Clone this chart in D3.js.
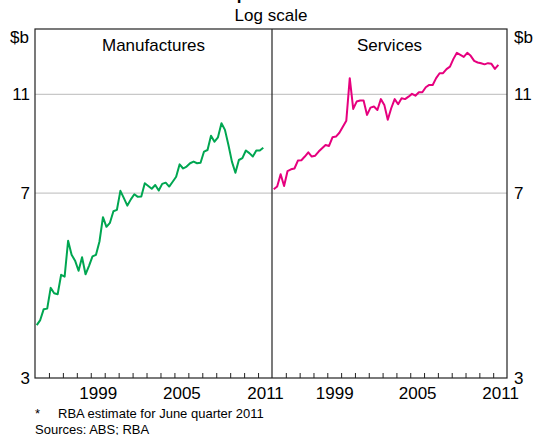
<!DOCTYPE html>
<html>
<head>
<meta charset="utf-8">
<script src="https://cdn.jsdelivr.net/npm/d3@7"></script>
<style>
  html, body { margin: 0; padding: 0; background: #fff; }
  svg { display: block; font-family: "Liberation Sans", Arial, sans-serif; }
</style>
</head>
<body>
<svg id="chart" width="536" height="435"></svg>
<script>
// ---- Data (quarterly, 1995 Q1 to 2011 Q2, $b, log scale) ----
const startYear = 1995;
const manufactures = [
  3.82, 3.91, 4.11, 4.12, 4.53, 4.42, 4.40, 4.81, 4.77, 5.62,
  5.27, 5.13, 4.90, 5.21, 4.82, 5.01, 5.23, 5.27, 5.60, 6.26,
  5.99, 6.10, 6.43, 6.47, 7.06, 6.83, 6.60, 6.79, 6.95, 6.87,
  6.88, 7.31, 7.22, 7.13, 7.25, 7.07, 7.29, 7.33, 7.20, 7.36,
  7.53, 7.97, 7.82, 7.89, 8.01, 8.07, 8.01, 8.03, 8.45, 8.51,
  9.08, 8.84, 9.02, 9.62, 9.33, 8.71, 8.07, 7.67, 8.13, 8.20,
  8.49, 8.39, 8.26, 8.49, 8.49, 8.60
];
const services = [
  7.11, 7.20, 7.62, 7.22, 7.73, 7.79, 7.82, 8.11, 8.12, 8.26,
  8.42, 8.26, 8.29, 8.45, 8.58, 8.71, 8.67, 9.02, 9.05, 9.21,
  9.47, 9.73, 11.82, 10.27, 10.62, 10.67, 10.67, 9.99, 10.33, 10.38,
  10.22, 10.74, 10.46, 9.77, 10.30, 10.74, 10.49, 10.78, 10.74, 10.86,
  11.00, 10.91, 11.08, 11.08, 11.34, 11.46, 11.46, 11.82, 12.09, 12.09,
  12.32, 12.46, 12.91, 13.27, 13.15, 13.03, 13.27, 13.09, 12.79, 12.70,
  12.65, 12.59, 12.66, 12.62, 12.33, 12.56
];
const panelTitles = ["Manufactures", "Services"];
const yTicks = [3, 7, 11];
const yGrid = [7, 11];
const xLabelYears = [1999, 2005, 2011];
const yearRange = [1995, 2012];

// ---- Layout ----
const svg = d3.select("#chart");
const plotTop = 29, plotBottom = 378;
const FS = 17;
const panels = [
  { x0: 35, x1: 272, data: manufactures, color: "#00a651", title: panelTitles[0] },
  { x0: 272, x1: 507, data: services, color: "#e6007e", title: panelTitles[1] }
];
const y = d3.scaleLog().domain([3, 14.8]).range([plotBottom, plotTop]);

// Title (cut off at top of picture) and subtitle
svg.append("text").attr("x", 216).attr("y", -0.5).attr("text-anchor", "start")
  .attr("font-size", FS).attr("font-weight", "bold").attr("fill", "#000")
  .text("Export Volumes*");
svg.append("text").attr("x", 271).attr("y", 21).attr("text-anchor", "middle")
  .attr("font-size", FS).attr("fill", "#000").text("Log scale");

// Gridlines
svg.append("g").attr("transform", `translate(35,0)`)
  .call(d3.axisRight(y).tickValues(yGrid).tickSize(507 - 35).tickFormat(""))
  .call(g => g.select(".domain").remove())
  .call(g => g.selectAll("line").attr("stroke", "#c8c8c8").attr("stroke-width", 1.2));

panels.forEach(p => {
  const x = d3.scaleLinear().domain(yearRange).range([p.x0, p.x1]);
  const g = svg.append("g");
  const years = d3.range(yearRange[0] + 1, yearRange[1]);
  g.append("g").attr("transform", `translate(0,${plotBottom})`)
    .call(d3.axisBottom(x).tickValues(years).tickSizeInner(-5).tickSizeOuter(0).tickFormat(""))
    .call(a => a.select(".domain").remove())
    .call(a => a.selectAll("line").attr("stroke", "#222").attr("stroke-width", 1));
  g.append("g").attr("transform", `translate(0,${plotBottom})`)
    .call(d3.axisBottom(x).tickValues(xLabelYears.map(v => v + 0.5)).tickSize(0).tickPadding(9)
      .tickFormat(v => String(Math.floor(v))))
    .call(a => a.select(".domain").remove())
    .call(a => a.selectAll("text").attr("font-size", FS).attr("fill", "#000")
      .attr("font-family", "Liberation Sans, Arial, sans-serif"));
  const line = d3.line()
    .x((d, i) => x(startYear + (i + 0.5) / 4))
    .y(d => y(d));
  g.append("path").datum(p.data).attr("d", line)
    .attr("fill", "none").attr("stroke", p.color).attr("stroke-width", 2)
    .attr("stroke-linejoin", "round");
  g.append("text").attr("x", (p.x0 + p.x1) / 2).attr("y", 51).attr("text-anchor", "middle")
    .attr("font-size", FS).attr("fill", "#000").text(p.title);
});

// Frame and divider
svg.append("rect").attr("x", 35).attr("y", plotTop).attr("width", 507 - 35).attr("height", plotBottom - plotTop)
  .attr("fill", "none").attr("stroke", "#222").attr("stroke-width", 1.2);
svg.append("line").attr("x1", 272).attr("x2", 272).attr("y1", plotTop).attr("y2", plotBottom)
  .attr("stroke", "#222").attr("stroke-width", 1.2);

// Y axes labels
svg.append("g").attr("transform", "translate(35,0)")
  .call(d3.axisLeft(y).tickValues(yTicks).tickSize(0).tickPadding(5).tickFormat(d3.format("d")))
  .call(a => a.select(".domain").remove())
  .call(a => a.selectAll("text").attr("font-size", FS).attr("fill", "#000")
    .attr("font-family", "Liberation Sans, Arial, sans-serif"));
svg.append("g").attr("transform", "translate(507,0)")
  .call(d3.axisRight(y).tickValues(yTicks).tickSize(0).tickPadding(7).tickFormat(d3.format("d")))
  .call(a => a.select(".domain").remove())
  .call(a => a.selectAll("text").attr("font-size", FS).attr("fill", "#000")
    .attr("font-family", "Liberation Sans, Arial, sans-serif"));

svg.append("text").attr("x", 29).attr("y", 43).attr("text-anchor", "end")
  .attr("font-size", FS).attr("fill", "#000").text("$b");
svg.append("text").attr("x", 514).attr("y", 43).attr("text-anchor", "start")
  .attr("font-size", FS).attr("fill", "#000").text("$b");

// Footnotes
svg.append("text").attr("x", 35).attr("y", 418).attr("font-size", 13).attr("fill", "#000").text("*");
svg.append("text").attr("x", 58).attr("y", 418).attr("font-size", 13).attr("fill", "#000")
  .text("RBA estimate for June quarter 2011");
svg.append("text").attr("x", 35).attr("y", 434).attr("font-size", 13).attr("fill", "#000")
  .text("Sources: ABS; RBA");
</script>
</body>
</html>
